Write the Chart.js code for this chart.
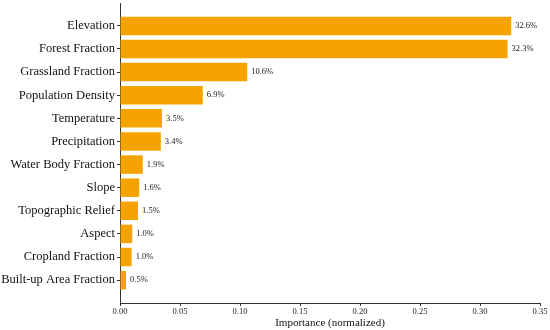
<!DOCTYPE html>
<html lang="en">
<head>
    <meta charset="UTF-8">
    <title>Feature Importance</title>
    <style>
        body { margin: 0; padding: 0; background: #fff; }
        #wrap { width: 550px; height: 330px; }
    </style>
</head>
<body>
    <div id="wrap"><canvas id="importanceChart"></canvas></div>
    <script src="https://cdn.jsdelivr.net/npm/chart.js"></script>
    <script>
        // data (top to bottom)
        var features = ['Elevation', 'Forest Fraction', 'Grassland Fraction', 'Population Density',
            'Temperature', 'Precipitation', 'Water Body Fraction', 'Slope', 'Topographic Relief',
            'Aspect', 'Cropland Fraction', 'Built-up Area Fraction'];
        var importance = [0.326, 0.323, 0.106, 0.069, 0.035, 0.034, 0.019, 0.016, 0.015, 0.0102, 0.0097, 0.005];
        var xTicks = [0, 0.05, 0.10, 0.15, 0.20, 0.25, 0.30, 0.35];

        var serif = '"Liberation Serif", "Times New Roman", serif';

        // percent labels to the right of each bar
        var valueLabels = {
            id: 'valueLabels',
            afterDatasetsDraw: function(chart) {
                var ctx = chart.ctx;
                var meta = chart.getDatasetMeta(0);
                ctx.save();
                ctx.font = '8.5px ' + serif;
                ctx.fillStyle = '#222';
                ctx.textBaseline = 'middle';
                ctx.textAlign = 'left';
                meta.data.forEach(function(bar, i) {
                    ctx.fillText((importance[i] * 100).toFixed(1) + '%', bar.x + 4, bar.y);
                });
                ctx.restore();
            }
        };

        var ctx = document.getElementById('importanceChart').getContext('2d');
        new Chart(ctx, {
            type: 'bar',
            data: {
                datasets: [{
                    data: importance.map(function(v, i) { return { x: v, y: i }; }),
                    backgroundColor: '#f5a300',
                    borderWidth: 0,
                    barPercentage: 0.8,
                    categoryPercentage: 1.0
                }]
            },
            options: {
                indexAxis: 'y',
                responsive: true,
                maintainAspectRatio: false,
                animation: false,
                layout: { padding: { top: 3, right: 10, left: 0, bottom: 0 } },
                plugins: {
                    legend: { display: false },
                    tooltip: { enabled: false }
                },
                scales: {
                    x: {
                        type: 'linear',
                        min: 0,
                        max: 0.35,
                        afterBuildTicks: function(scale) {
                            scale.ticks = xTicks.map(function(v) { return { value: v }; });
                        },
                        afterFit: function(scale) { scale.height = 27; },
                        grid: { display: true, drawOnChartArea: false, tickLength: 3, color: '#333' },
                        border: { display: true, color: '#333', width: 1 },
                        ticks: {
                            padding: 1,
                            color: '#222',
                            font: { family: serif, size: 8.5 },
                            callback: function(v) { return Number(v).toFixed(2); }
                        },
                        title: {
                            display: true,
                            text: 'Importance (normalized)',
                            color: '#111',
                            padding: { top: 0, bottom: 0 },
                            font: { family: serif, size: 11 }
                        }
                    },
                    y: {
                        type: 'linear',
                        reverse: true,
                        offset: false,
                        min: -0.99,
                        max: features.length - 1 + 0.99,
                        afterBuildTicks: function(scale) {
                            scale.ticks = features.map(function(f, i) { return { value: i }; });
                        },
                        afterFit: function(scale) {
                            scale.width = 120;
                            scale.paddingTop = 0;
                            scale.paddingBottom = 0;
                        },
                        grid: { display: true, offset: false, drawOnChartArea: false, tickLength: 3, color: '#333' },
                        border: { display: true, color: '#333', width: 1 },
                        ticks: {
                            padding: 2,
                            color: '#111',
                            font: { family: serif, size: 12.5 },
                            callback: function(v) { return features[v]; }
                        }
                    }
                }
            },
            plugins: [valueLabels]
        });
    </script>
</body>
</html>
